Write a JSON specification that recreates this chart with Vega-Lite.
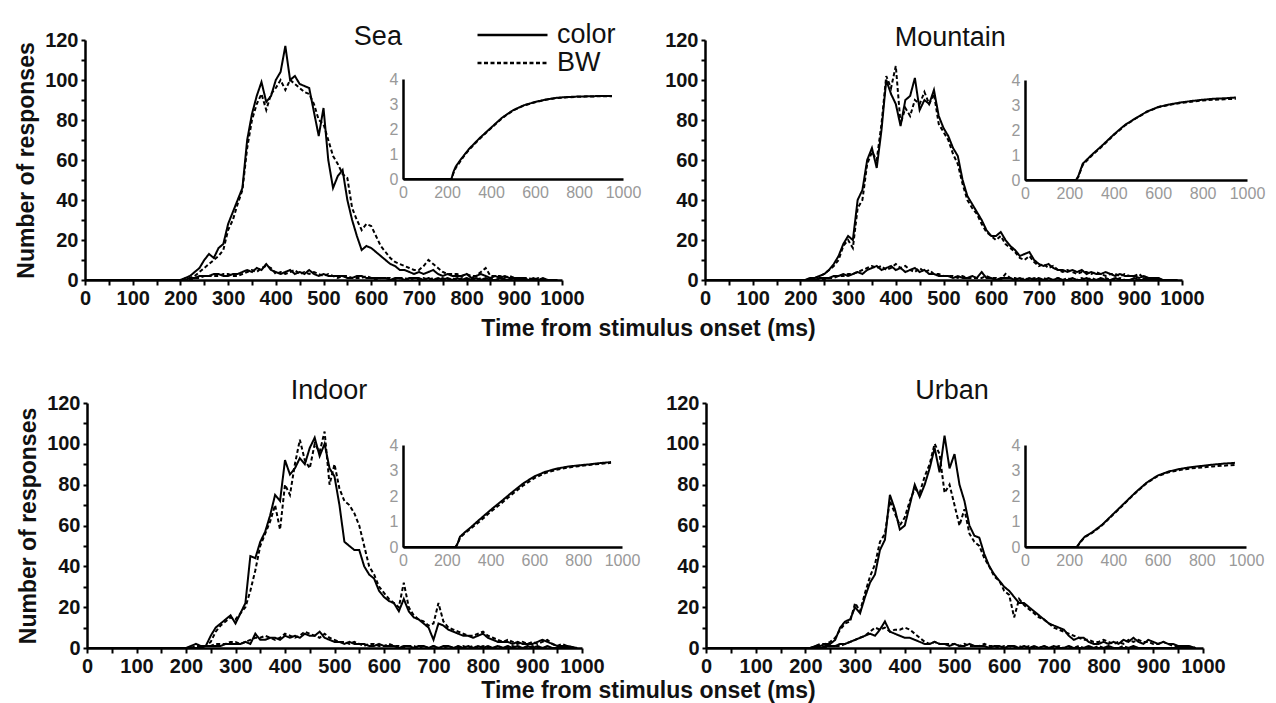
{
"$schema": "https://vega.github.io/schema/vega-lite/v6.json",
"width": 1276, "height": 703, "autosize": {"type": "none"}, "padding": 0, "background": "white",
"config": {"view": {"stroke": null}, "font": "Liberation Sans",
 "axis": {"grid": false, "domainColor": "#000", "tickColor": "#000", "labelFlush": false, "labelOverlap": false}},
"datasets": {
"main": [
{"p":"Sea","t":0,"color":0,"BW":0,"color_fa":0,"BW_fa":0},
{"p":"Sea","t":200,"color":0,"BW":0,"color_fa":0,"BW_fa":0},
{"p":"Sea","t":210,"color":1,"BW":0,"color_fa":0,"BW_fa":0},
{"p":"Sea","t":220,"color":2,"BW":1,"color_fa":1,"BW_fa":0},
{"p":"Sea","t":230,"color":4,"BW":2,"color_fa":1,"BW_fa":1},
{"p":"Sea","t":240,"color":6,"BW":4,"color_fa":2,"BW_fa":1},
{"p":"Sea","t":250,"color":10,"BW":6,"color_fa":2,"BW_fa":2},
{"p":"Sea","t":260,"color":13,"BW":8,"color_fa":2,"BW_fa":2},
{"p":"Sea","t":270,"color":11,"BW":10,"color_fa":3,"BW_fa":2},
{"p":"Sea","t":280,"color":16,"BW":12,"color_fa":3,"BW_fa":2},
{"p":"Sea","t":290,"color":18,"BW":15,"color_fa":2,"BW_fa":3},
{"p":"Sea","t":300,"color":28,"BW":25,"color_fa":2,"BW_fa":3},
{"p":"Sea","t":310,"color":34,"BW":30,"color_fa":3,"BW_fa":2},
{"p":"Sea","t":320,"color":40,"BW":38,"color_fa":3,"BW_fa":2},
{"p":"Sea","t":330,"color":46,"BW":45,"color_fa":4,"BW_fa":3},
{"p":"Sea","t":340,"color":70,"BW":66,"color_fa":5,"BW_fa":4},
{"p":"Sea","t":350,"color":83,"BW":80,"color_fa":4,"BW_fa":5},
{"p":"Sea","t":360,"color":92,"BW":88,"color_fa":6,"BW_fa":4},
{"p":"Sea","t":370,"color":99,"BW":93,"color_fa":5,"BW_fa":6},
{"p":"Sea","t":380,"color":89,"BW":85,"color_fa":8,"BW_fa":7},
{"p":"Sea","t":390,"color":92,"BW":93,"color_fa":5,"BW_fa":6},
{"p":"Sea","t":400,"color":100,"BW":96,"color_fa":4,"BW_fa":3},
{"p":"Sea","t":410,"color":104,"BW":100,"color_fa":3,"BW_fa":4},
{"p":"Sea","t":420,"color":117,"BW":95,"color_fa":4,"BW_fa":3},
{"p":"Sea","t":430,"color":100,"BW":100,"color_fa":5,"BW_fa":4},
{"p":"Sea","t":440,"color":102,"BW":98,"color_fa":3,"BW_fa":5},
{"p":"Sea","t":450,"color":98,"BW":96,"color_fa":4,"BW_fa":3},
{"p":"Sea","t":460,"color":97,"BW":94,"color_fa":3,"BW_fa":4},
{"p":"Sea","t":470,"color":96,"BW":93,"color_fa":5,"BW_fa":3},
{"p":"Sea","t":480,"color":84,"BW":88,"color_fa":3,"BW_fa":4},
{"p":"Sea","t":490,"color":72,"BW":80,"color_fa":2,"BW_fa":3},
{"p":"Sea","t":500,"color":86,"BW":78,"color_fa":3,"BW_fa":2},
{"p":"Sea","t":510,"color":60,"BW":70,"color_fa":2,"BW_fa":3},
{"p":"Sea","t":520,"color":46,"BW":62,"color_fa":2,"BW_fa":2},
{"p":"Sea","t":530,"color":52,"BW":58,"color_fa":2,"BW_fa":1},
{"p":"Sea","t":540,"color":55,"BW":53,"color_fa":2,"BW_fa":2},
{"p":"Sea","t":550,"color":40,"BW":51,"color_fa":1,"BW_fa":2},
{"p":"Sea","t":560,"color":30,"BW":36,"color_fa":1,"BW_fa":1},
{"p":"Sea","t":570,"color":22,"BW":30,"color_fa":2,"BW_fa":1},
{"p":"Sea","t":580,"color":15,"BW":25,"color_fa":2,"BW_fa":1},
{"p":"Sea","t":590,"color":17,"BW":28,"color_fa":1,"BW_fa":2},
{"p":"Sea","t":600,"color":16,"BW":27,"color_fa":1,"BW_fa":1},
{"p":"Sea","t":610,"color":14,"BW":22,"color_fa":1,"BW_fa":0},
{"p":"Sea","t":620,"color":12,"BW":17,"color_fa":1,"BW_fa":1},
{"p":"Sea","t":630,"color":10,"BW":14,"color_fa":1,"BW_fa":1},
{"p":"Sea","t":640,"color":8,"BW":11,"color_fa":0,"BW_fa":1},
{"p":"Sea","t":650,"color":7,"BW":9,"color_fa":1,"BW_fa":0},
{"p":"Sea","t":660,"color":5,"BW":8,"color_fa":1,"BW_fa":1},
{"p":"Sea","t":670,"color":5,"BW":7,"color_fa":0,"BW_fa":1},
{"p":"Sea","t":680,"color":4,"BW":6,"color_fa":1,"BW_fa":0},
{"p":"Sea","t":690,"color":3,"BW":5,"color_fa":1,"BW_fa":1},
{"p":"Sea","t":700,"color":4,"BW":5,"color_fa":1,"BW_fa":0},
{"p":"Sea","t":710,"color":3,"BW":7,"color_fa":0,"BW_fa":1},
{"p":"Sea","t":720,"color":4,"BW":10,"color_fa":1,"BW_fa":0},
{"p":"Sea","t":730,"color":5,"BW":8,"color_fa":0,"BW_fa":1},
{"p":"Sea","t":740,"color":3,"BW":6,"color_fa":1,"BW_fa":0},
{"p":"Sea","t":750,"color":2,"BW":4,"color_fa":0,"BW_fa":1},
{"p":"Sea","t":760,"color":3,"BW":3,"color_fa":1,"BW_fa":0},
{"p":"Sea","t":770,"color":2,"BW":3,"color_fa":0,"BW_fa":1},
{"p":"Sea","t":780,"color":2,"BW":3,"color_fa":1,"BW_fa":0},
{"p":"Sea","t":790,"color":2,"BW":2,"color_fa":0,"BW_fa":1},
{"p":"Sea","t":800,"color":3,"BW":3,"color_fa":1,"BW_fa":0},
{"p":"Sea","t":810,"color":1,"BW":2,"color_fa":0,"BW_fa":1},
{"p":"Sea","t":820,"color":2,"BW":2,"color_fa":1,"BW_fa":0},
{"p":"Sea","t":830,"color":3,"BW":4,"color_fa":0,"BW_fa":1},
{"p":"Sea","t":840,"color":2,"BW":6,"color_fa":1,"BW_fa":0},
{"p":"Sea","t":850,"color":1,"BW":2,"color_fa":0,"BW_fa":1},
{"p":"Sea","t":860,"color":2,"BW":2,"color_fa":0,"BW_fa":0},
{"p":"Sea","t":870,"color":1,"BW":2,"color_fa":1,"BW_fa":0},
{"p":"Sea","t":880,"color":2,"BW":1,"color_fa":0,"BW_fa":1},
{"p":"Sea","t":890,"color":1,"BW":2,"color_fa":0,"BW_fa":0},
{"p":"Sea","t":900,"color":1,"BW":1,"color_fa":1,"BW_fa":0},
{"p":"Sea","t":910,"color":1,"BW":1,"color_fa":0,"BW_fa":1},
{"p":"Sea","t":920,"color":1,"BW":1,"color_fa":0,"BW_fa":0},
{"p":"Sea","t":930,"color":0,"BW":1,"color_fa":0,"BW_fa":0},
{"p":"Sea","t":940,"color":1,"BW":0,"color_fa":0,"BW_fa":0},
{"p":"Sea","t":950,"color":0,"BW":1,"color_fa":0,"BW_fa":0},
{"p":"Sea","t":960,"color":1,"BW":0,"color_fa":0,"BW_fa":0},
{"p":"Sea","t":970,"color":0,"BW":0,"color_fa":0,"BW_fa":0},
{"p":"Sea","t":990,"color":0,"BW":0,"color_fa":0,"BW_fa":0},
{"p":"Mountain","t":0,"color":0,"BW":0,"color_fa":0,"BW_fa":0},
{"p":"Mountain","t":200,"color":0,"BW":0,"color_fa":0,"BW_fa":0},
{"p":"Mountain","t":210,"color":0,"BW":0,"color_fa":0,"BW_fa":0},
{"p":"Mountain","t":220,"color":1,"BW":0,"color_fa":0,"BW_fa":0},
{"p":"Mountain","t":230,"color":1,"BW":1,"color_fa":0,"BW_fa":0},
{"p":"Mountain","t":240,"color":2,"BW":2,"color_fa":1,"BW_fa":0},
{"p":"Mountain","t":250,"color":3,"BW":3,"color_fa":1,"BW_fa":0},
{"p":"Mountain","t":260,"color":5,"BW":5,"color_fa":1,"BW_fa":1},
{"p":"Mountain","t":270,"color":8,"BW":7,"color_fa":2,"BW_fa":1},
{"p":"Mountain","t":280,"color":12,"BW":10,"color_fa":2,"BW_fa":2},
{"p":"Mountain","t":290,"color":18,"BW":17,"color_fa":3,"BW_fa":2},
{"p":"Mountain","t":300,"color":22,"BW":20,"color_fa":2,"BW_fa":3},
{"p":"Mountain","t":310,"color":20,"BW":16,"color_fa":3,"BW_fa":3},
{"p":"Mountain","t":320,"color":40,"BW":36,"color_fa":4,"BW_fa":4},
{"p":"Mountain","t":330,"color":45,"BW":40,"color_fa":3,"BW_fa":5},
{"p":"Mountain","t":340,"color":60,"BW":58,"color_fa":5,"BW_fa":6},
{"p":"Mountain","t":350,"color":66,"BW":64,"color_fa":6,"BW_fa":7},
{"p":"Mountain","t":360,"color":56,"BW":60,"color_fa":7,"BW_fa":6},
{"p":"Mountain","t":370,"color":75,"BW":78,"color_fa":5,"BW_fa":7},
{"p":"Mountain","t":380,"color":100,"BW":102,"color_fa":6,"BW_fa":5},
{"p":"Mountain","t":390,"color":93,"BW":96,"color_fa":7,"BW_fa":6},
{"p":"Mountain","t":400,"color":88,"BW":107,"color_fa":5,"BW_fa":8},
{"p":"Mountain","t":410,"color":77,"BW":78,"color_fa":6,"BW_fa":6},
{"p":"Mountain","t":420,"color":90,"BW":86,"color_fa":4,"BW_fa":7},
{"p":"Mountain","t":430,"color":92,"BW":82,"color_fa":5,"BW_fa":5},
{"p":"Mountain","t":440,"color":101,"BW":90,"color_fa":6,"BW_fa":4},
{"p":"Mountain","t":450,"color":85,"BW":88,"color_fa":4,"BW_fa":6},
{"p":"Mountain","t":460,"color":90,"BW":94,"color_fa":5,"BW_fa":4},
{"p":"Mountain","t":470,"color":88,"BW":88,"color_fa":3,"BW_fa":5},
{"p":"Mountain","t":480,"color":95,"BW":93,"color_fa":3,"BW_fa":3},
{"p":"Mountain","t":490,"color":82,"BW":78,"color_fa":2,"BW_fa":3},
{"p":"Mountain","t":500,"color":76,"BW":74,"color_fa":2,"BW_fa":2},
{"p":"Mountain","t":510,"color":72,"BW":70,"color_fa":2,"BW_fa":2},
{"p":"Mountain","t":520,"color":66,"BW":63,"color_fa":1,"BW_fa":2},
{"p":"Mountain","t":530,"color":62,"BW":58,"color_fa":2,"BW_fa":1},
{"p":"Mountain","t":540,"color":50,"BW":48,"color_fa":1,"BW_fa":2},
{"p":"Mountain","t":550,"color":42,"BW":40,"color_fa":1,"BW_fa":1},
{"p":"Mountain","t":560,"color":38,"BW":36,"color_fa":2,"BW_fa":1},
{"p":"Mountain","t":570,"color":34,"BW":33,"color_fa":1,"BW_fa":1},
{"p":"Mountain","t":580,"color":30,"BW":28,"color_fa":4,"BW_fa":1},
{"p":"Mountain","t":590,"color":25,"BW":24,"color_fa":1,"BW_fa":2},
{"p":"Mountain","t":600,"color":22,"BW":22,"color_fa":1,"BW_fa":1},
{"p":"Mountain","t":610,"color":22,"BW":20,"color_fa":0,"BW_fa":1},
{"p":"Mountain","t":620,"color":24,"BW":22,"color_fa":1,"BW_fa":0},
{"p":"Mountain","t":630,"color":20,"BW":18,"color_fa":1,"BW_fa":3},
{"p":"Mountain","t":640,"color":17,"BW":16,"color_fa":1,"BW_fa":1},
{"p":"Mountain","t":650,"color":15,"BW":14,"color_fa":0,"BW_fa":1},
{"p":"Mountain","t":660,"color":12,"BW":11,"color_fa":1,"BW_fa":0},
{"p":"Mountain","t":670,"color":13,"BW":10,"color_fa":0,"BW_fa":1},
{"p":"Mountain","t":680,"color":14,"BW":12,"color_fa":1,"BW_fa":0},
{"p":"Mountain","t":690,"color":10,"BW":9,"color_fa":0,"BW_fa":1},
{"p":"Mountain","t":700,"color":8,"BW":7,"color_fa":1,"BW_fa":0},
{"p":"Mountain","t":710,"color":7,"BW":8,"color_fa":0,"BW_fa":1},
{"p":"Mountain","t":720,"color":8,"BW":6,"color_fa":1,"BW_fa":0},
{"p":"Mountain","t":730,"color":6,"BW":7,"color_fa":0,"BW_fa":0},
{"p":"Mountain","t":740,"color":5,"BW":5,"color_fa":1,"BW_fa":1},
{"p":"Mountain","t":750,"color":5,"BW":4,"color_fa":0,"BW_fa":0},
{"p":"Mountain","t":760,"color":4,"BW":5,"color_fa":0,"BW_fa":1},
{"p":"Mountain","t":770,"color":5,"BW":4,"color_fa":1,"BW_fa":0},
{"p":"Mountain","t":780,"color":4,"BW":3,"color_fa":0,"BW_fa":0},
{"p":"Mountain","t":790,"color":5,"BW":4,"color_fa":0,"BW_fa":1},
{"p":"Mountain","t":800,"color":3,"BW":4,"color_fa":1,"BW_fa":0},
{"p":"Mountain","t":810,"color":4,"BW":3,"color_fa":0,"BW_fa":1},
{"p":"Mountain","t":820,"color":3,"BW":4,"color_fa":0,"BW_fa":0},
{"p":"Mountain","t":830,"color":3,"BW":3,"color_fa":1,"BW_fa":0},
{"p":"Mountain","t":840,"color":4,"BW":2,"color_fa":0,"BW_fa":1},
{"p":"Mountain","t":850,"color":3,"BW":3,"color_fa":0,"BW_fa":0},
{"p":"Mountain","t":860,"color":2,"BW":3,"color_fa":1,"BW_fa":0},
{"p":"Mountain","t":870,"color":3,"BW":2,"color_fa":0,"BW_fa":1},
{"p":"Mountain","t":880,"color":2,"BW":3,"color_fa":0,"BW_fa":0},
{"p":"Mountain","t":890,"color":2,"BW":2,"color_fa":0,"BW_fa":0},
{"p":"Mountain","t":900,"color":2,"BW":2,"color_fa":1,"BW_fa":0},
{"p":"Mountain","t":910,"color":1,"BW":3,"color_fa":0,"BW_fa":0},
{"p":"Mountain","t":920,"color":2,"BW":1,"color_fa":0,"BW_fa":1},
{"p":"Mountain","t":930,"color":1,"BW":1,"color_fa":0,"BW_fa":0},
{"p":"Mountain","t":940,"color":1,"BW":1,"color_fa":0,"BW_fa":0},
{"p":"Mountain","t":950,"color":1,"BW":1,"color_fa":0,"BW_fa":0},
{"p":"Mountain","t":960,"color":0,"BW":0,"color_fa":0,"BW_fa":0},
{"p":"Mountain","t":990,"color":0,"BW":0,"color_fa":0,"BW_fa":0},
{"p":"Indoor","t":0,"color":0,"BW":0,"color_fa":0,"BW_fa":0},
{"p":"Indoor","t":200,"color":0,"BW":0,"color_fa":0,"BW_fa":0},
{"p":"Indoor","t":210,"color":1,"BW":0,"color_fa":0,"BW_fa":0},
{"p":"Indoor","t":220,"color":2,"BW":1,"color_fa":0,"BW_fa":0},
{"p":"Indoor","t":230,"color":1,"BW":1,"color_fa":0,"BW_fa":1},
{"p":"Indoor","t":240,"color":1,"BW":1,"color_fa":1,"BW_fa":1},
{"p":"Indoor","t":250,"color":6,"BW":3,"color_fa":1,"BW_fa":1},
{"p":"Indoor","t":260,"color":10,"BW":8,"color_fa":1,"BW_fa":2},
{"p":"Indoor","t":270,"color":12,"BW":11,"color_fa":1,"BW_fa":2},
{"p":"Indoor","t":280,"color":14,"BW":13,"color_fa":2,"BW_fa":2},
{"p":"Indoor","t":290,"color":16,"BW":15,"color_fa":2,"BW_fa":3},
{"p":"Indoor","t":300,"color":12,"BW":14,"color_fa":2,"BW_fa":3},
{"p":"Indoor","t":310,"color":17,"BW":17,"color_fa":2,"BW_fa":2},
{"p":"Indoor","t":320,"color":22,"BW":20,"color_fa":3,"BW_fa":3},
{"p":"Indoor","t":330,"color":45,"BW":28,"color_fa":2,"BW_fa":4},
{"p":"Indoor","t":340,"color":44,"BW":38,"color_fa":7,"BW_fa":5},
{"p":"Indoor","t":350,"color":52,"BW":50,"color_fa":4,"BW_fa":5},
{"p":"Indoor","t":360,"color":57,"BW":56,"color_fa":4,"BW_fa":6},
{"p":"Indoor","t":370,"color":65,"BW":62,"color_fa":5,"BW_fa":5},
{"p":"Indoor","t":380,"color":75,"BW":70,"color_fa":5,"BW_fa":4},
{"p":"Indoor","t":390,"color":72,"BW":58,"color_fa":4,"BW_fa":5},
{"p":"Indoor","t":400,"color":92,"BW":80,"color_fa":6,"BW_fa":7},
{"p":"Indoor","t":410,"color":85,"BW":75,"color_fa":5,"BW_fa":6},
{"p":"Indoor","t":420,"color":88,"BW":90,"color_fa":6,"BW_fa":5},
{"p":"Indoor","t":430,"color":93,"BW":102,"color_fa":5,"BW_fa":6},
{"p":"Indoor","t":440,"color":90,"BW":92,"color_fa":7,"BW_fa":8},
{"p":"Indoor","t":450,"color":98,"BW":88,"color_fa":6,"BW_fa":7},
{"p":"Indoor","t":460,"color":103,"BW":100,"color_fa":6,"BW_fa":6},
{"p":"Indoor","t":470,"color":94,"BW":96,"color_fa":8,"BW_fa":5},
{"p":"Indoor","t":480,"color":100,"BW":106,"color_fa":5,"BW_fa":7},
{"p":"Indoor","t":490,"color":88,"BW":80,"color_fa":4,"BW_fa":5},
{"p":"Indoor","t":500,"color":84,"BW":90,"color_fa":3,"BW_fa":4},
{"p":"Indoor","t":510,"color":70,"BW":78,"color_fa":3,"BW_fa":3},
{"p":"Indoor","t":520,"color":52,"BW":72,"color_fa":2,"BW_fa":3},
{"p":"Indoor","t":530,"color":50,"BW":70,"color_fa":3,"BW_fa":2},
{"p":"Indoor","t":540,"color":48,"BW":66,"color_fa":2,"BW_fa":3},
{"p":"Indoor","t":550,"color":48,"BW":60,"color_fa":2,"BW_fa":2},
{"p":"Indoor","t":560,"color":40,"BW":50,"color_fa":2,"BW_fa":1},
{"p":"Indoor","t":570,"color":36,"BW":40,"color_fa":1,"BW_fa":2},
{"p":"Indoor","t":580,"color":34,"BW":36,"color_fa":1,"BW_fa":2},
{"p":"Indoor","t":590,"color":28,"BW":30,"color_fa":2,"BW_fa":1},
{"p":"Indoor","t":600,"color":25,"BW":27,"color_fa":1,"BW_fa":1},
{"p":"Indoor","t":610,"color":23,"BW":24,"color_fa":1,"BW_fa":2},
{"p":"Indoor","t":620,"color":22,"BW":22,"color_fa":1,"BW_fa":1},
{"p":"Indoor","t":630,"color":18,"BW":20,"color_fa":0,"BW_fa":1},
{"p":"Indoor","t":640,"color":24,"BW":32,"color_fa":1,"BW_fa":0},
{"p":"Indoor","t":650,"color":18,"BW":20,"color_fa":1,"BW_fa":1},
{"p":"Indoor","t":660,"color":15,"BW":16,"color_fa":0,"BW_fa":1},
{"p":"Indoor","t":670,"color":14,"BW":14,"color_fa":1,"BW_fa":0},
{"p":"Indoor","t":680,"color":12,"BW":13,"color_fa":1,"BW_fa":1},
{"p":"Indoor","t":690,"color":10,"BW":11,"color_fa":0,"BW_fa":0},
{"p":"Indoor","t":700,"color":4,"BW":12,"color_fa":1,"BW_fa":1},
{"p":"Indoor","t":710,"color":12,"BW":22,"color_fa":0,"BW_fa":0},
{"p":"Indoor","t":720,"color":11,"BW":13,"color_fa":1,"BW_fa":0},
{"p":"Indoor","t":730,"color":9,"BW":10,"color_fa":1,"BW_fa":1},
{"p":"Indoor","t":740,"color":8,"BW":9,"color_fa":0,"BW_fa":0},
{"p":"Indoor","t":750,"color":7,"BW":8,"color_fa":1,"BW_fa":0},
{"p":"Indoor","t":760,"color":6,"BW":7,"color_fa":0,"BW_fa":1},
{"p":"Indoor","t":770,"color":6,"BW":6,"color_fa":1,"BW_fa":0},
{"p":"Indoor","t":780,"color":5,"BW":6,"color_fa":0,"BW_fa":1},
{"p":"Indoor","t":790,"color":6,"BW":7,"color_fa":1,"BW_fa":0},
{"p":"Indoor","t":800,"color":7,"BW":8,"color_fa":0,"BW_fa":1},
{"p":"Indoor","t":810,"color":5,"BW":6,"color_fa":1,"BW_fa":0},
{"p":"Indoor","t":820,"color":4,"BW":5,"color_fa":0,"BW_fa":0},
{"p":"Indoor","t":830,"color":3,"BW":4,"color_fa":1,"BW_fa":1},
{"p":"Indoor","t":840,"color":3,"BW":3,"color_fa":0,"BW_fa":0},
{"p":"Indoor","t":850,"color":3,"BW":4,"color_fa":1,"BW_fa":0},
{"p":"Indoor","t":860,"color":2,"BW":3,"color_fa":0,"BW_fa":1},
{"p":"Indoor","t":870,"color":3,"BW":2,"color_fa":1,"BW_fa":0},
{"p":"Indoor","t":880,"color":2,"BW":3,"color_fa":0,"BW_fa":0},
{"p":"Indoor","t":890,"color":2,"BW":2,"color_fa":1,"BW_fa":0},
{"p":"Indoor","t":900,"color":2,"BW":3,"color_fa":0,"BW_fa":1},
{"p":"Indoor","t":910,"color":3,"BW":2,"color_fa":1,"BW_fa":0},
{"p":"Indoor","t":920,"color":4,"BW":3,"color_fa":0,"BW_fa":0},
{"p":"Indoor","t":930,"color":3,"BW":4,"color_fa":1,"BW_fa":0},
{"p":"Indoor","t":940,"color":2,"BW":2,"color_fa":0,"BW_fa":0},
{"p":"Indoor","t":950,"color":1,"BW":1,"color_fa":0,"BW_fa":0},
{"p":"Indoor","t":960,"color":1,"BW":2,"color_fa":0,"BW_fa":0},
{"p":"Indoor","t":970,"color":1,"BW":1,"color_fa":0,"BW_fa":0},
{"p":"Indoor","t":990,"color":0,"BW":0,"color_fa":0,"BW_fa":0},
{"p":"Urban","t":0,"color":0,"BW":0,"color_fa":0,"BW_fa":0},
{"p":"Urban","t":200,"color":0,"BW":0,"color_fa":0,"BW_fa":0},
{"p":"Urban","t":210,"color":0,"BW":0,"color_fa":0,"BW_fa":0},
{"p":"Urban","t":220,"color":1,"BW":1,"color_fa":0,"BW_fa":0},
{"p":"Urban","t":230,"color":1,"BW":2,"color_fa":0,"BW_fa":0},
{"p":"Urban","t":240,"color":2,"BW":2,"color_fa":1,"BW_fa":0},
{"p":"Urban","t":250,"color":2,"BW":3,"color_fa":1,"BW_fa":1},
{"p":"Urban","t":260,"color":4,"BW":5,"color_fa":1,"BW_fa":1},
{"p":"Urban","t":270,"color":10,"BW":9,"color_fa":2,"BW_fa":1},
{"p":"Urban","t":280,"color":13,"BW":12,"color_fa":2,"BW_fa":2},
{"p":"Urban","t":290,"color":14,"BW":13,"color_fa":3,"BW_fa":3},
{"p":"Urban","t":300,"color":20,"BW":22,"color_fa":4,"BW_fa":4},
{"p":"Urban","t":310,"color":17,"BW":18,"color_fa":5,"BW_fa":5},
{"p":"Urban","t":320,"color":25,"BW":27,"color_fa":6,"BW_fa":6},
{"p":"Urban","t":330,"color":32,"BW":35,"color_fa":7,"BW_fa":8},
{"p":"Urban","t":340,"color":36,"BW":41,"color_fa":6,"BW_fa":10},
{"p":"Urban","t":350,"color":48,"BW":52,"color_fa":9,"BW_fa":9},
{"p":"Urban","t":360,"color":53,"BW":56,"color_fa":13,"BW_fa":10},
{"p":"Urban","t":370,"color":75,"BW":72,"color_fa":8,"BW_fa":8},
{"p":"Urban","t":380,"color":68,"BW":66,"color_fa":7,"BW_fa":9},
{"p":"Urban","t":390,"color":58,"BW":60,"color_fa":6,"BW_fa":9},
{"p":"Urban","t":400,"color":60,"BW":64,"color_fa":5,"BW_fa":10},
{"p":"Urban","t":410,"color":70,"BW":72,"color_fa":5,"BW_fa":9},
{"p":"Urban","t":420,"color":80,"BW":78,"color_fa":4,"BW_fa":7},
{"p":"Urban","t":430,"color":74,"BW":76,"color_fa":3,"BW_fa":5},
{"p":"Urban","t":440,"color":80,"BW":84,"color_fa":2,"BW_fa":3},
{"p":"Urban","t":450,"color":88,"BW":90,"color_fa":2,"BW_fa":2},
{"p":"Urban","t":460,"color":98,"BW":100,"color_fa":3,"BW_fa":3},
{"p":"Urban","t":470,"color":86,"BW":95,"color_fa":2,"BW_fa":2},
{"p":"Urban","t":480,"color":104,"BW":76,"color_fa":2,"BW_fa":2},
{"p":"Urban","t":490,"color":88,"BW":80,"color_fa":1,"BW_fa":2},
{"p":"Urban","t":500,"color":95,"BW":70,"color_fa":2,"BW_fa":2},
{"p":"Urban","t":510,"color":80,"BW":60,"color_fa":1,"BW_fa":1},
{"p":"Urban","t":520,"color":72,"BW":68,"color_fa":1,"BW_fa":2},
{"p":"Urban","t":530,"color":60,"BW":56,"color_fa":2,"BW_fa":1},
{"p":"Urban","t":540,"color":55,"BW":52,"color_fa":1,"BW_fa":1},
{"p":"Urban","t":550,"color":54,"BW":50,"color_fa":1,"BW_fa":1},
{"p":"Urban","t":560,"color":46,"BW":44,"color_fa":1,"BW_fa":2},
{"p":"Urban","t":570,"color":40,"BW":40,"color_fa":0,"BW_fa":1},
{"p":"Urban","t":580,"color":36,"BW":35,"color_fa":1,"BW_fa":1},
{"p":"Urban","t":590,"color":33,"BW":33,"color_fa":1,"BW_fa":0},
{"p":"Urban","t":600,"color":30,"BW":28,"color_fa":0,"BW_fa":1},
{"p":"Urban","t":610,"color":28,"BW":26,"color_fa":1,"BW_fa":1},
{"p":"Urban","t":620,"color":25,"BW":15,"color_fa":1,"BW_fa":0},
{"p":"Urban","t":630,"color":22,"BW":24,"color_fa":0,"BW_fa":1},
{"p":"Urban","t":640,"color":22,"BW":21,"color_fa":1,"BW_fa":0},
{"p":"Urban","t":650,"color":20,"BW":19,"color_fa":0,"BW_fa":1},
{"p":"Urban","t":660,"color":18,"BW":17,"color_fa":1,"BW_fa":0},
{"p":"Urban","t":670,"color":16,"BW":15,"color_fa":0,"BW_fa":0},
{"p":"Urban","t":680,"color":14,"BW":14,"color_fa":1,"BW_fa":1},
{"p":"Urban","t":690,"color":12,"BW":12,"color_fa":0,"BW_fa":0},
{"p":"Urban","t":700,"color":11,"BW":10,"color_fa":1,"BW_fa":0},
{"p":"Urban","t":710,"color":10,"BW":9,"color_fa":0,"BW_fa":1},
{"p":"Urban","t":720,"color":9,"BW":8,"color_fa":0,"BW_fa":0},
{"p":"Urban","t":730,"color":6,"BW":7,"color_fa":1,"BW_fa":0},
{"p":"Urban","t":740,"color":4,"BW":6,"color_fa":0,"BW_fa":0},
{"p":"Urban","t":750,"color":5,"BW":5,"color_fa":0,"BW_fa":1},
{"p":"Urban","t":760,"color":5,"BW":4,"color_fa":0,"BW_fa":0},
{"p":"Urban","t":770,"color":3,"BW":4,"color_fa":1,"BW_fa":0},
{"p":"Urban","t":780,"color":2,"BW":3,"color_fa":0,"BW_fa":0},
{"p":"Urban","t":790,"color":2,"BW":3,"color_fa":0,"BW_fa":1},
{"p":"Urban","t":800,"color":3,"BW":4,"color_fa":0,"BW_fa":0},
{"p":"Urban","t":810,"color":2,"BW":3,"color_fa":1,"BW_fa":0},
{"p":"Urban","t":820,"color":3,"BW":2,"color_fa":0,"BW_fa":0},
{"p":"Urban","t":830,"color":2,"BW":3,"color_fa":0,"BW_fa":0},
{"p":"Urban","t":840,"color":4,"BW":2,"color_fa":0,"BW_fa":1},
{"p":"Urban","t":850,"color":3,"BW":4,"color_fa":0,"BW_fa":0},
{"p":"Urban","t":860,"color":5,"BW":3,"color_fa":1,"BW_fa":0},
{"p":"Urban","t":870,"color":3,"BW":4,"color_fa":0,"BW_fa":0},
{"p":"Urban","t":880,"color":2,"BW":3,"color_fa":0,"BW_fa":0},
{"p":"Urban","t":890,"color":4,"BW":3,"color_fa":0,"BW_fa":0},
{"p":"Urban","t":900,"color":3,"BW":2,"color_fa":0,"BW_fa":0},
{"p":"Urban","t":910,"color":2,"BW":2,"color_fa":0,"BW_fa":0},
{"p":"Urban","t":920,"color":3,"BW":3,"color_fa":0,"BW_fa":0},
{"p":"Urban","t":930,"color":2,"BW":2,"color_fa":0,"BW_fa":0},
{"p":"Urban","t":940,"color":2,"BW":1,"color_fa":0,"BW_fa":0},
{"p":"Urban","t":950,"color":1,"BW":1,"color_fa":0,"BW_fa":0},
{"p":"Urban","t":960,"color":1,"BW":1,"color_fa":0,"BW_fa":0},
{"p":"Urban","t":970,"color":1,"BW":1,"color_fa":0,"BW_fa":0},
{"p":"Urban","t":985,"color":0,"BW":0,"color_fa":0,"BW_fa":0}
],
"ins": [
{"p":"Sea","t":0,"color":0,"BW":0},{"p":"Sea","t":220,"color":0,"BW":0},{"p":"Sea","t":230,"color":0.3,"BW":0.25},{"p":"Sea","t":240,"color":0.5,"BW":0.45},{"p":"Sea","t":260,"color":0.75,"BW":0.7},{"p":"Sea","t":280,"color":0.98,"BW":0.95},{"p":"Sea","t":300,"color":1.2,"BW":1.17},{"p":"Sea","t":350,"color":1.65,"BW":1.62},{"p":"Sea","t":400,"color":2.05,"BW":2.03},{"p":"Sea","t":450,"color":2.45,"BW":2.43},{"p":"Sea","t":500,"color":2.75,"BW":2.74},{"p":"Sea","t":550,"color":2.95,"BW":2.94},{"p":"Sea","t":600,"color":3.08,"BW":3.07},{"p":"Sea","t":650,"color":3.18,"BW":3.17},{"p":"Sea","t":700,"color":3.25,"BW":3.24},{"p":"Sea","t":750,"color":3.28,"BW":3.27},{"p":"Sea","t":800,"color":3.3,"BW":3.29},{"p":"Sea","t":850,"color":3.31,"BW":3.3},{"p":"Sea","t":900,"color":3.32,"BW":3.31},{"p":"Sea","t":950,"color":3.32,"BW":3.31},
{"p":"Mountain","t":0,"color":0,"BW":0},{"p":"Mountain","t":230,"color":0,"BW":0},{"p":"Mountain","t":240,"color":0.15,"BW":0.12},{"p":"Mountain","t":260,"color":0.65,"BW":0.6},{"p":"Mountain","t":300,"color":1.0,"BW":0.97},{"p":"Mountain","t":350,"color":1.4,"BW":1.37},{"p":"Mountain","t":400,"color":1.82,"BW":1.8},{"p":"Mountain","t":450,"color":2.2,"BW":2.18},{"p":"Mountain","t":500,"color":2.48,"BW":2.47},{"p":"Mountain","t":550,"color":2.74,"BW":2.73},{"p":"Mountain","t":600,"color":2.92,"BW":2.91},{"p":"Mountain","t":650,"color":3.02,"BW":3.01},{"p":"Mountain","t":700,"color":3.1,"BW":3.08},{"p":"Mountain","t":750,"color":3.16,"BW":3.13},{"p":"Mountain","t":800,"color":3.21,"BW":3.18},{"p":"Mountain","t":850,"color":3.25,"BW":3.21},{"p":"Mountain","t":900,"color":3.27,"BW":3.23},{"p":"Mountain","t":950,"color":3.3,"BW":3.25},
{"p":"Indoor","t":0,"color":0,"BW":0},{"p":"Indoor","t":240,"color":0,"BW":0},{"p":"Indoor","t":250,"color":0.15,"BW":0.12},{"p":"Indoor","t":260,"color":0.4,"BW":0.36},{"p":"Indoor","t":280,"color":0.56,"BW":0.52},{"p":"Indoor","t":300,"color":0.7,"BW":0.66},{"p":"Indoor","t":350,"color":1.08,"BW":1.0},{"p":"Indoor","t":400,"color":1.45,"BW":1.38},{"p":"Indoor","t":450,"color":1.8,"BW":1.72},{"p":"Indoor","t":500,"color":2.16,"BW":2.08},{"p":"Indoor","t":550,"color":2.5,"BW":2.42},{"p":"Indoor","t":600,"color":2.77,"BW":2.7},{"p":"Indoor","t":650,"color":2.95,"BW":2.9},{"p":"Indoor","t":700,"color":3.07,"BW":3.03},{"p":"Indoor","t":750,"color":3.15,"BW":3.11},{"p":"Indoor","t":800,"color":3.2,"BW":3.17},{"p":"Indoor","t":850,"color":3.24,"BW":3.22},{"p":"Indoor","t":900,"color":3.29,"BW":3.26},{"p":"Indoor","t":950,"color":3.33,"BW":3.3},
{"p":"Urban","t":0,"color":0,"BW":0},{"p":"Urban","t":235,"color":0,"BW":0},{"p":"Urban","t":250,"color":0.2,"BW":0.18},{"p":"Urban","t":270,"color":0.4,"BW":0.38},{"p":"Urban","t":300,"color":0.55,"BW":0.53},{"p":"Urban","t":350,"color":0.88,"BW":0.86},{"p":"Urban","t":400,"color":1.3,"BW":1.28},{"p":"Urban","t":450,"color":1.72,"BW":1.7},{"p":"Urban","t":500,"color":2.14,"BW":2.12},{"p":"Urban","t":550,"color":2.52,"BW":2.5},{"p":"Urban","t":600,"color":2.8,"BW":2.78},{"p":"Urban","t":650,"color":2.96,"BW":2.93},{"p":"Urban","t":700,"color":3.06,"BW":3.02},{"p":"Urban","t":750,"color":3.13,"BW":3.08},{"p":"Urban","t":800,"color":3.18,"BW":3.12},{"p":"Urban","t":850,"color":3.23,"BW":3.16},{"p":"Urban","t":900,"color":3.27,"BW":3.19},{"p":"Urban","t":950,"color":3.3,"BW":3.22}
]
},
"layer": [
{
 "layer": [
  {
   "data": {"name": "main"},
   "transform": [{"filter": "datum.p === 'Sea'"}, {"fold": ["color","BW","color_fa","BW_fa"], "as": ["k","n"]}],
   "mark": {"type": "line", "color": "#000", "strokeWidth": 2},
   "encoding": {
    "x": {"field": "t", "type": "quantitative", "scale": {"domain": [0,1000], "range": [85,562], "nice": false, "zero": false},
     "axis": {"orient": "bottom", "offset": -423, "values": [0,50,100,150,200,250,300,350,400,450,500,550,600,650,700,750,800,850,900,950,1000], "labelExpr": "datum.value % 100 === 0 ? datum.label : ''", "format": "d", "labelFontSize": 20, "labelFontWeight": "bold", "labelColor": "#111", "labelPadding": 3, "tickSize": 5, "tickWidth": 2, "domainWidth": 2.5,
      "title": "Time from stimulus onset (ms)", "titleX": 648, "titleY": 48, "titleBaseline": "middle", "titleFontSize": 23, "titleFontWeight": "bold", "titleColor": "#111"}},
    "y": {"field": "n", "type": "quantitative", "scale": {"domain": [0,120], "range": [280,40], "nice": false},
     "axis": {"orient": "left", "offset": -85, "values": [0,10,20,30,40,50,60,70,80,90,100,110,120], "labelExpr": "datum.value % 20 === 0 ? datum.label : ''", "labelFontSize": 20, "labelFontWeight": "bold", "labelColor": "#111", "labelPadding": 3, "tickSize": 4, "tickWidth": 2, "domainWidth": 2.5,
      "title": "Number of responses", "titleFontSize": 23, "titleFontWeight": "bold", "titleColor": "#111", "titlePadding": 6}},
    "strokeDash": {"field": "k", "type": "nominal", "scale": {"domain": ["color","BW","color_fa","BW_fa"], "range": [[1,0],[4,2.5],[1,0],[4,2.5]]},
     "legend": {"values": ["color","BW"], "orient": "none", "legendX": 476, "legendY": 21, "direction": "vertical", "title": null, "symbolType": "stroke", "symbolSize": 4900, "symbolStrokeWidth": 2.5, "symbolStrokeColor": "#000", "labelFontSize": 27, "labelColor": "#111", "labelOffset": 8, "clipHeight": 28, "rowPadding": 0, "padding": 0}}
   }
  },
  {
   "data": {"values": [{"name": "Sea"}]},
   "mark": {"type": "text", "fontSize": 27, "color": "#111", "baseline": "middle", "align": "center"},
   "encoding": {"x": {"datum": 614}, "y": {"datum": 121.5}, "text": {"field": "name"}}
  }
 ]
},
{
 "data": {"name": "ins"},
 "transform": [{"filter": "datum.p === 'Sea'"}, {"fold": ["color","BW"], "as": ["k","n"]}],
 "mark": {"type": "line", "color": "#000", "strokeWidth": 2},
 "encoding": {
  "x": {"field": "t", "type": "quantitative", "scale": {"domain": [0,1000], "range": [403,623], "nice": false, "zero": false},
   "axis": {"orient": "bottom", "offset": -524, "values": [0,200,400,600,800,1000], "format": "d", "ticks": false, "labelPadding": 5, "labelFontSize": 16, "labelColor": "#999", "domainWidth": 2.5, "title": null}},
  "y": {"field": "n", "type": "quantitative", "scale": {"domain": [0,4], "range": [179,79], "nice": false},
   "axis": {"orient": "left", "offset": -403, "values": [0,1,2,3,4], "ticks": false, "labelPadding": 5, "labelFontSize": 16, "labelColor": "#999", "domainWidth": 2.5, "title": null}},
  "strokeDash": {"field": "k", "type": "nominal", "scale": {"domain": ["color","BW","color_fa","BW_fa"], "range": [[1,0],[4,2.5],[1,0],[4,2.5]]}}
 }
},
{
 "layer": [
  {
   "data": {"name": "main"},
   "transform": [{"filter": "datum.p === 'Mountain'"}, {"fold": ["color","BW","color_fa","BW_fa"], "as": ["k","n"]}],
   "mark": {"type": "line", "color": "#000", "strokeWidth": 2},
   "encoding": {
    "x": {"field": "t", "type": "quantitative", "scale": {"domain": [0,1000], "range": [705,1182], "nice": false, "zero": false},
     "axis": {"orient": "bottom", "offset": -423, "values": [0,50,100,150,200,250,300,350,400,450,500,550,600,650,700,750,800,850,900,950,1000], "labelExpr": "datum.value % 100 === 0 ? datum.label : ''", "format": "d", "labelFontSize": 20, "labelFontWeight": "bold", "labelColor": "#111", "labelPadding": 3, "tickSize": 5, "tickWidth": 2, "domainWidth": 2.5, "title": null}},
    "y": {"field": "n", "type": "quantitative", "scale": {"domain": [0,120], "range": [280,40], "nice": false},
     "axis": {"orient": "left", "offset": -705, "values": [0,10,20,30,40,50,60,70,80,90,100,110,120], "labelExpr": "datum.value % 20 === 0 ? datum.label : ''", "labelFontSize": 20, "labelFontWeight": "bold", "labelColor": "#111", "labelPadding": 3, "tickSize": 4, "tickWidth": 2, "domainWidth": 2.5, "title": null}},
    "strokeDash": {"field": "k", "type": "nominal", "scale": {"domain": ["color","BW","color_fa","BW_fa"], "range": [[1,0],[4,2.5],[1,0],[4,2.5]]}}
   }
  },
  {
   "data": {"values": [{"name": "Mountain"}]},
   "mark": {"type": "text", "fontSize": 27, "color": "#111", "baseline": "middle", "align": "center"},
   "encoding": {"x": {"datum": 514}, "y": {"datum": 121}, "text": {"field": "name"}}
  }
 ]
},
{
 "data": {"name": "ins"},
 "transform": [{"filter": "datum.p === 'Mountain'"}, {"fold": ["color","BW"], "as": ["k","n"]}],
 "mark": {"type": "line", "color": "#000", "strokeWidth": 2},
 "encoding": {
  "x": {"field": "t", "type": "quantitative", "scale": {"domain": [0,1000], "range": [1025,1247], "nice": false, "zero": false},
   "axis": {"orient": "bottom", "offset": -523, "values": [0,200,400,600,800,1000], "format": "d", "ticks": false, "labelPadding": 5, "labelFontSize": 16, "labelColor": "#999", "domainWidth": 2.5, "title": null}},
  "y": {"field": "n", "type": "quantitative", "scale": {"domain": [0,4], "range": [180,80], "nice": false},
   "axis": {"orient": "left", "offset": -1025, "values": [0,1,2,3,4], "ticks": false, "labelPadding": 5, "labelFontSize": 16, "labelColor": "#999", "domainWidth": 2.5, "title": null}},
  "strokeDash": {"field": "k", "type": "nominal", "scale": {"domain": ["color","BW","color_fa","BW_fa"], "range": [[1,0],[4,2.5],[1,0],[4,2.5]]}}
 }
},
{
 "layer": [
  {
   "data": {"name": "main"},
   "transform": [{"filter": "datum.p === 'Indoor'"}, {"fold": ["color","BW","color_fa","BW_fa"], "as": ["k","n"]}],
   "mark": {"type": "line", "color": "#000", "strokeWidth": 2},
   "encoding": {
    "x": {"field": "t", "type": "quantitative", "scale": {"domain": [0,1000], "range": [87,582], "nice": false, "zero": false},
     "axis": {"orient": "bottom", "offset": -55, "values": [0,50,100,150,200,250,300,350,400,450,500,550,600,650,700,750,800,850,900,950,1000], "labelExpr": "datum.value % 100 === 0 ? datum.label : ''", "format": "d", "labelFontSize": 20, "labelFontWeight": "bold", "labelColor": "#111", "labelPadding": 3, "tickSize": 5, "tickWidth": 2, "domainWidth": 2.5,
      "title": "Time from stimulus onset (ms)", "titleX": 648, "titleY": 42, "titleBaseline": "middle", "titleFontSize": 23, "titleFontWeight": "bold", "titleColor": "#111"}},
    "y": {"field": "n", "type": "quantitative", "scale": {"domain": [0,120], "range": [648,403], "nice": false},
     "axis": {"orient": "left", "offset": -87, "values": [0,10,20,30,40,50,60,70,80,90,100,110,120], "labelExpr": "datum.value % 20 === 0 ? datum.label : ''", "labelFontSize": 20, "labelFontWeight": "bold", "labelColor": "#111", "labelPadding": 3, "tickSize": 4, "tickWidth": 2, "domainWidth": 2.5,
      "title": "Number of responses", "titleFontSize": 23, "titleFontWeight": "bold", "titleColor": "#111", "titlePadding": 6}},
    "strokeDash": {"field": "k", "type": "nominal", "scale": {"domain": ["color","BW","color_fa","BW_fa"], "range": [[1,0],[4,2.5],[1,0],[4,2.5]]}}
   }
  },
  {
   "data": {"values": [{"name": "Indoor"}]},
   "mark": {"type": "text", "fontSize": 27, "color": "#111", "baseline": "middle", "align": "center"},
   "encoding": {"x": {"datum": 489}, "y": {"datum": 126}, "text": {"field": "name"}}
  }
 ]
},
{
 "data": {"name": "ins"},
 "transform": [{"filter": "datum.p === 'Indoor'"}, {"fold": ["color","BW"], "as": ["k","n"]}],
 "mark": {"type": "line", "color": "#000", "strokeWidth": 2},
 "encoding": {
  "x": {"field": "t", "type": "quantitative", "scale": {"domain": [0,1000], "range": [403,622], "nice": false, "zero": false},
   "axis": {"orient": "bottom", "offset": -156, "values": [0,200,400,600,800,1000], "format": "d", "ticks": false, "labelPadding": 5, "labelFontSize": 16, "labelColor": "#999", "domainWidth": 2.5, "title": null}},
  "y": {"field": "n", "type": "quantitative", "scale": {"domain": [0,4], "range": [547,445], "nice": false},
   "axis": {"orient": "left", "offset": -403, "values": [0,1,2,3,4], "ticks": false, "labelPadding": 5, "labelFontSize": 16, "labelColor": "#999", "domainWidth": 2.5, "title": null}},
  "strokeDash": {"field": "k", "type": "nominal", "scale": {"domain": ["color","BW","color_fa","BW_fa"], "range": [[1,0],[4,2.5],[1,0],[4,2.5]]}}
 }
},
{
 "layer": [
  {
   "data": {"name": "main"},
   "transform": [{"filter": "datum.p === 'Urban'"}, {"fold": ["color","BW","color_fa","BW_fa"], "as": ["k","n"]}],
   "mark": {"type": "line", "color": "#000", "strokeWidth": 2},
   "encoding": {
    "x": {"field": "t", "type": "quantitative", "scale": {"domain": [0,1000], "range": [706,1203], "nice": false, "zero": false},
     "axis": {"orient": "bottom", "offset": -55, "values": [0,50,100,150,200,250,300,350,400,450,500,550,600,650,700,750,800,850,900,950,1000], "labelExpr": "datum.value % 100 === 0 ? datum.label : ''", "format": "d", "labelFontSize": 20, "labelFontWeight": "bold", "labelColor": "#111", "labelPadding": 3, "tickSize": 5, "tickWidth": 2, "domainWidth": 2.5, "title": null}},
    "y": {"field": "n", "type": "quantitative", "scale": {"domain": [0,120], "range": [648,403], "nice": false},
     "axis": {"orient": "left", "offset": -706, "values": [0,10,20,30,40,50,60,70,80,90,100,110,120], "labelExpr": "datum.value % 20 === 0 ? datum.label : ''", "labelFontSize": 20, "labelFontWeight": "bold", "labelColor": "#111", "labelPadding": 3, "tickSize": 4, "tickWidth": 2, "domainWidth": 2.5, "title": null}},
    "strokeDash": {"field": "k", "type": "nominal", "scale": {"domain": ["color","BW","color_fa","BW_fa"], "range": [[1,0],[4,2.5],[1,0],[4,2.5]]}}
   }
  },
  {
   "data": {"values": [{"name": "Urban"}]},
   "mark": {"type": "text", "fontSize": 27, "color": "#111", "baseline": "middle", "align": "center"},
   "encoding": {"x": {"datum": 495}, "y": {"datum": 126}, "text": {"field": "name"}}
  }
 ]
},
{
 "data": {"name": "ins"},
 "transform": [{"filter": "datum.p === 'Urban'"}, {"fold": ["color","BW"], "as": ["k","n"]}],
 "mark": {"type": "line", "color": "#000", "strokeWidth": 2},
 "encoding": {
  "x": {"field": "t", "type": "quantitative", "scale": {"domain": [0,1000], "range": [1025,1246], "nice": false, "zero": false},
   "axis": {"orient": "bottom", "offset": -156, "values": [0,200,400,600,800,1000], "format": "d", "ticks": false, "labelPadding": 5, "labelFontSize": 16, "labelColor": "#999", "domainWidth": 2.5, "title": null}},
  "y": {"field": "n", "type": "quantitative", "scale": {"domain": [0,4], "range": [547,445], "nice": false},
   "axis": {"orient": "left", "offset": -1025, "values": [0,1,2,3,4], "ticks": false, "labelPadding": 5, "labelFontSize": 16, "labelColor": "#999", "domainWidth": 2.5, "title": null}},
  "strokeDash": {"field": "k", "type": "nominal", "scale": {"domain": ["color","BW","color_fa","BW_fa"], "range": [[1,0],[4,2.5],[1,0],[4,2.5]]}}
 }
}
],
"resolve": {"scale": {"x": "independent", "y": "independent"}, "axis": {"x": "independent", "y": "independent"}}
}
